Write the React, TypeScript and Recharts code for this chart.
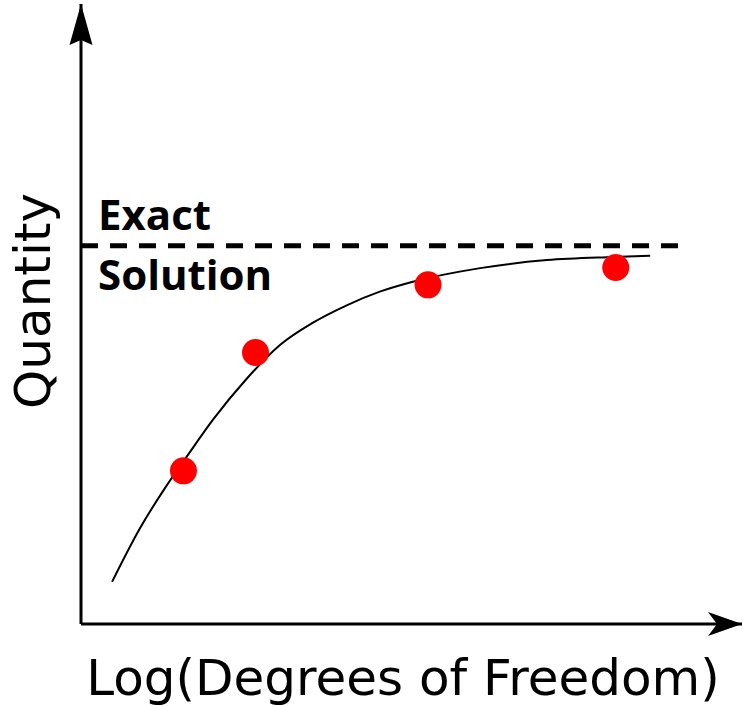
import {ComposedChart, Label, Line, ReferenceLine, Scatter, XAxis, YAxis} from "recharts";

// fitted curve (log dof vs quantity)
const curveX = [4.7, 8.9, 13.0, 16.0, 20.0, 25.1, 30.1, 35.1, 40.2, 45.2, 50.2, 60.4, 70.5, 80.5, 86.1];
const curveY = [6.8, 15.4, 22.4, 27.0, 33.0, 39.6, 45.0, 48.6, 51.4, 53.6, 55.2, 57.4, 58.7, 59.2, 59.4];

// computed results
const pointX = [15.5, 26.4, 52.5, 80.9];
const pointY = [24.7, 43.8, 54.7, 57.5];

const exactValue = 61.0;
const exactEnd = 92.1;

const xLabel = "Log(Degrees of Freedom)";
const yLabel = "Quantity";

const curve = curveX.map((x, i) => ({x, y: curveY[i]}));
const points = pointX.map((x, i) => ({x, y: pointY[i]}));

const axisFont = "'DejaVu Sans', sans-serif";
const noteFont = "'Open Sans', sans-serif";

export default function App() {
    return (
        <div style={{position: "absolute", left: 0, top: 0, background: "#fff"}}>
            <ComposedChart width={743} height={706} margin={{top: 4, right: 1, left: 0, bottom: 0}}>
                <defs>
                    <marker id="arrowX" markerUnits="userSpaceOnUse" markerWidth={36} markerHeight={26}
                            viewBox="0 0 36 26" refX={34} refY={13} orient="auto-start-reverse">
                        <path d="M0,1 L34,13 L0,25 L9,13 Z" fill="#000"/>
                    </marker>
                    <marker id="arrowY" markerUnits="userSpaceOnUse" markerWidth={43} markerHeight={26}
                            viewBox="0 0 43 26" refX={41} refY={13} orient="auto-start-reverse">
                        <path d="M0,1.5 L41,13 L0,24.5 L5,13 Z" fill="#000"/>
                    </marker>
                </defs>
                <XAxis dataKey="x" type="number" domain={[0, 100]} allowDataOverflow height={82}
                       tick={false} tickLine={false}
                       axisLine={{stroke: "#000", strokeWidth: 3, markerEnd: "url(#arrowX)"}}>
                    <Label content={() => (
                        <text x={403} y={695} textAnchor="middle"
                              fontFamily={axisFont} fontSize={50} fill="#000">{xLabel}</text>
                    )}/>
                </XAxis>
                <YAxis type="number" domain={[0, 100]} allowDataOverflow width={81}
                       tick={false} tickLine={false}
                       axisLine={{stroke: "#000", strokeWidth: 3, markerStart: "url(#arrowY)"}}>
                    <Label content={() => (
                        <text x={50} y={301} textAnchor="middle" transform="rotate(-90, 50, 301)"
                              fontFamily={axisFont} fontSize={50} fill="#000">{yLabel}</text>
                    )}/>
                </YAxis>
                <ReferenceLine segment={[{x: 0, y: exactValue}, {x: exactEnd, y: exactValue}]}
                               stroke="#000" strokeWidth={5} strokeDasharray="17 12" ifOverflow="visible">
                    <Label content={(p: any) => {
                        const vb = p.viewBox || {x: 81, y: 246};
                        return (
                            <g fontFamily={noteFont} fontWeight={700} fontSize={42} fill="#000">
                                <text x={vb.x + 17} y={vb.y - 16}>Exact</text>
                                <text x={vb.x + 17} y={vb.y + 44}>Solution</text>
                            </g>
                        );
                    }}/>
                </ReferenceLine>
                <Line data={curve} dataKey="y" type="monotone" stroke="#000" strokeWidth={2}
                      dot={false} activeDot={false} isAnimationActive={false}/>
                <Scatter data={points} dataKey="y" isAnimationActive={false}
                         shape={(p: any) => <circle cx={p.cx} cy={p.cy} r={13.5} fill="#ff0000"/>}/>
            </ComposedChart>
        </div>
    );
}
